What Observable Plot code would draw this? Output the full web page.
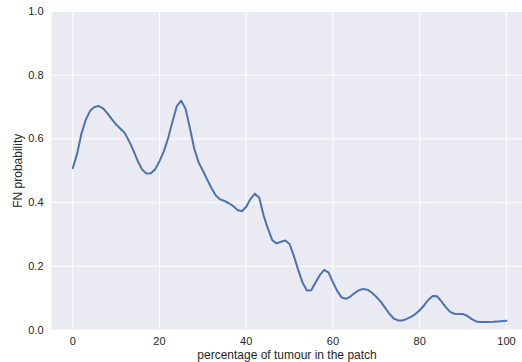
<!DOCTYPE html>
<html>
<head>
<meta charset="utf-8">
<script src="https://cdn.jsdelivr.net/npm/d3@7"></script>
<script src="https://cdn.jsdelivr.net/npm/@observablehq/plot@0.6"></script>
<style>
  html, body { margin: 0; padding: 0; background: #fff; overflow: hidden; }
  svg { display: block; }
  svg [aria-label="x-axis label"] text, svg [aria-label="y-axis label"] text { font-size: 12px; }
</style>
</head>
<body>
<div id="chart"></div>
<script>
const pct = [0,1,2,3,4,5,6,7,8,9,10,11,12,13,14,15,16,17,18,19,20,21,22,23,24,25,26,27,28,29,30,31,32,33,34,35,36,37,38,39,40,41,42,43,44,45,46,47,48,49,50,51,52,53,54,55,56,57,58,59,60,61,62,63,64,65,66,67,68,69,70,71,72,73,74,75,76,77,78,79,80,81,82,83,84,85,86,87,88,89,90,91,92,93,94,95,97,98,100];
const fnProb = [0.508,0.553,0.616,0.660,0.688,0.700,0.703,0.696,0.680,0.662,0.645,0.632,0.618,0.593,0.563,0.530,0.504,0.491,0.492,0.505,0.530,0.561,0.603,0.655,0.703,0.720,0.695,0.635,0.570,0.527,0.500,0.472,0.445,0.422,0.410,0.405,0.398,0.389,0.377,0.373,0.387,0.412,0.428,0.415,0.360,0.318,0.282,0.272,0.277,0.281,0.270,0.232,0.188,0.148,0.124,0.125,0.150,0.173,0.189,0.180,0.150,0.122,0.102,0.098,0.105,0.116,0.125,0.129,0.126,0.117,0.104,0.089,0.070,0.051,0.036,0.030,0.030,0.035,0.041,0.050,0.062,0.077,0.095,0.107,0.106,0.090,0.072,0.057,0.051,0.050,0.050,0.044,0.034,0.027,0.025,0.025,0.026,0.027,0.029];
const xTicks = [0,20,40,60,80,100];
const yTicks = [0,0.2,0.4,0.6,0.8,1.0];
const xLabel = "percentage of tumour in the patch";
const yLabel = "FN probability";

const data = pct.map((p, i) => ({p, v: fnProb[i]}));

const chart = Plot.plot({
  width: 522,
  height: 362,
  marginLeft: 51,
  marginRight: 0,
  marginTop: 11,
  marginBottom: 32.5,
  style: {fontFamily: "'Liberation Sans', Arial, sans-serif", fontSize: "11px", color: "#262626", background: "#fff"},
  x: {domain: [-4.9, 103.7]},
  y: {domain: [0, 1]},
  marks: [
    Plot.frame({fill: "#EAEAF2", stroke: null}),
    Plot.gridX(xTicks, {stroke: "#fff", strokeOpacity: 1, strokeWidth: 1}),
    Plot.gridY(yTicks, {stroke: "#fff", strokeOpacity: 1, strokeWidth: 1}),
    Plot.axisX(xTicks, {tickSize: 0, tickPadding: 7, tickFormat: d => String(d), label: xLabel, labelAnchor: "center", labelArrow: "none", labelOffset: 29, fill: "#262626"}),
    Plot.axisY(yTicks, {tickSize: 0, tickPadding: 8, tickFormat: d => d.toFixed(1), label: yLabel, labelAnchor: "center", labelArrow: "none", labelOffset: 38, fill: "#262626"}),
    Plot.line(data, {x: "p", y: "v", stroke: "#4C72B0", strokeWidth: 2, curve: "linear"})
  ]
});
document.getElementById("chart").appendChild(chart);
</script>
</body>
</html>
